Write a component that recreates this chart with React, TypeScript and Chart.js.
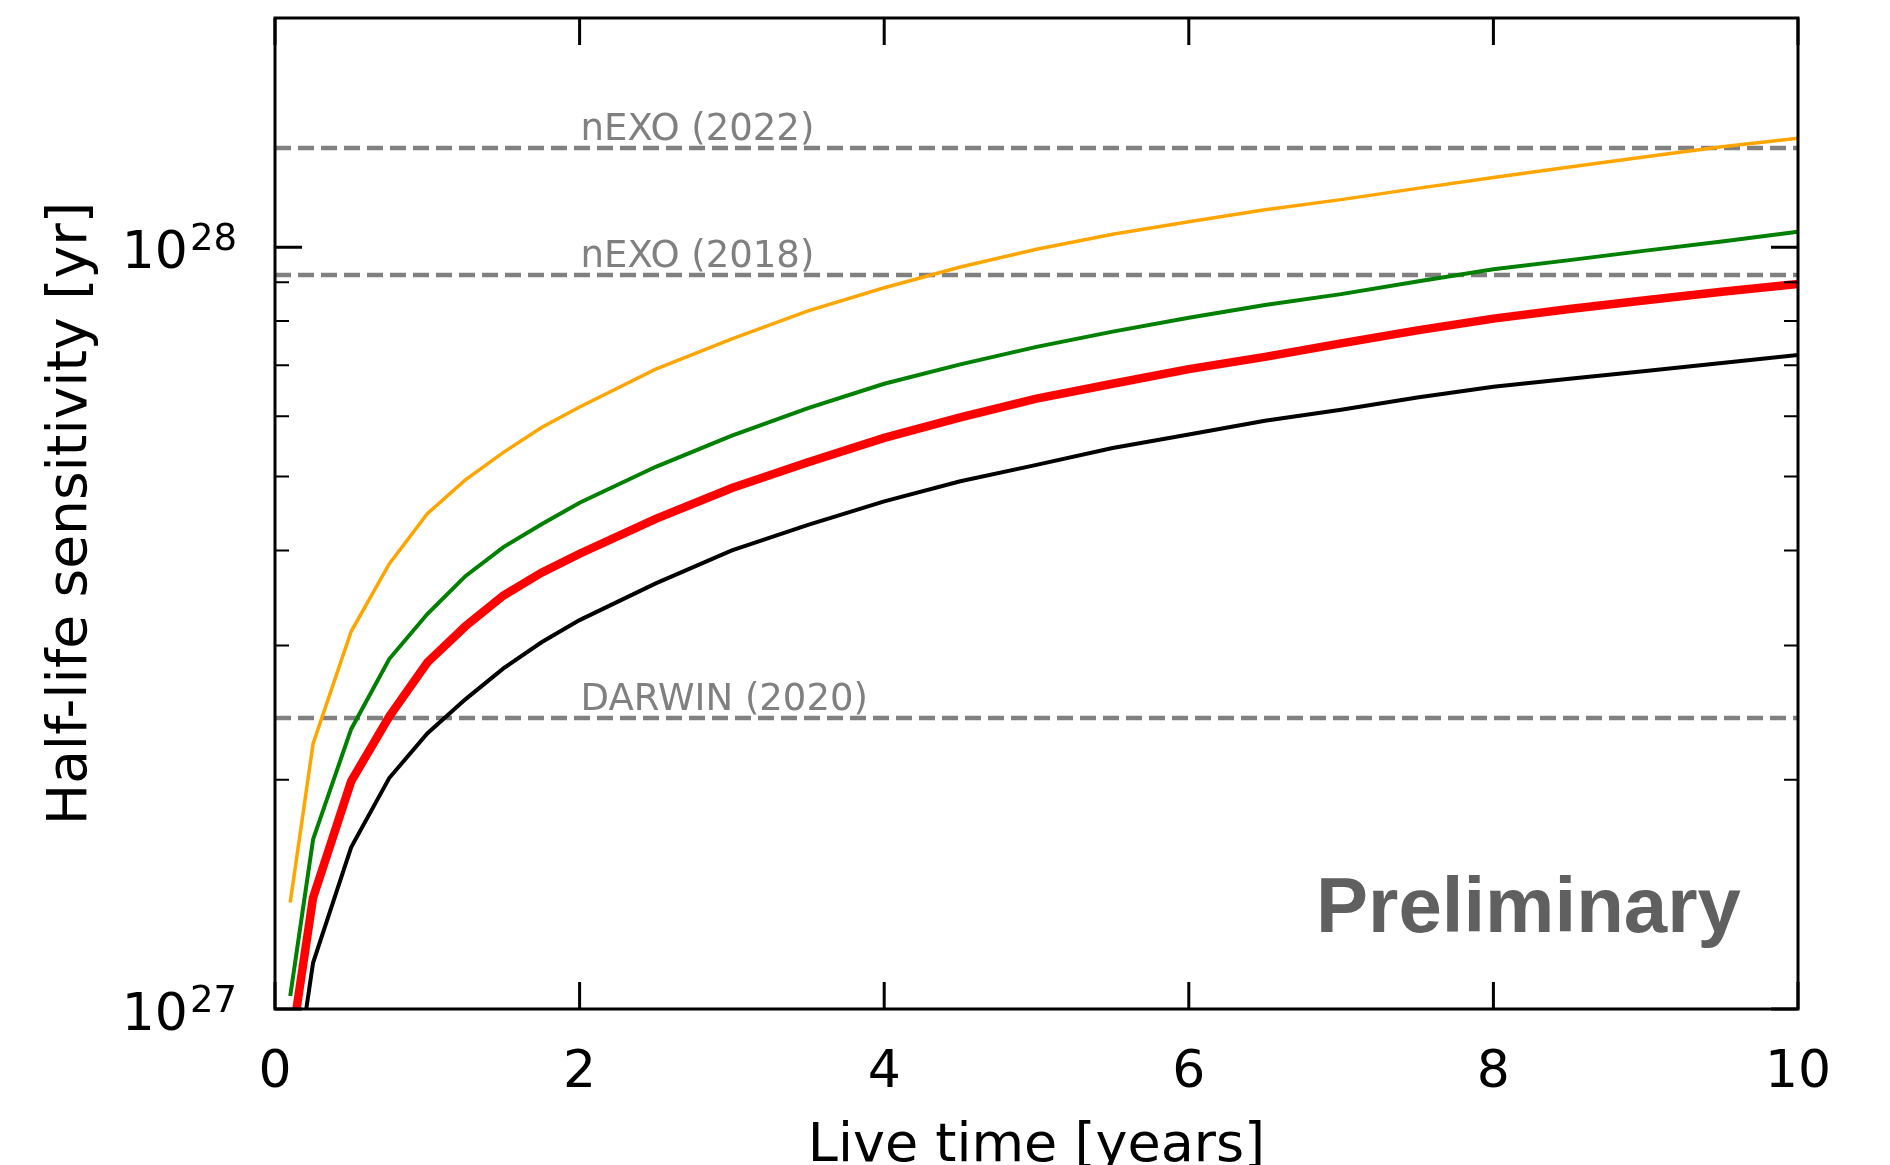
import React, { useEffect, useRef } from "react";
import { Chart, registerables } from "chart.js";

Chart.register(...registerables);

// Live time [years]
const LIVE_TIME = [0.1, 0.25, 0.5, 0.75, 1, 1.25, 1.5, 1.75, 2, 2.5, 3, 3.5, 4, 4.5, 5, 5.5, 6, 6.5, 7, 7.5, 8, 8.5, 9, 9.5, 10];

// Half-life sensitivity [yr]
const ORANGE_SERIES = [1.38e27, 2.23e27, 3.13e27, 3.84e27, 4.47e27, 4.95e27, 5.38e27, 5.8e27, 6.17e27, 6.92e27, 7.58e27, 8.25e27, 8.85e27, 9.42e27, 9.94e27, 1.04e28, 1.08e28, 1.12e28, 1.155e28, 1.195e28, 1.235e28, 1.275e28, 1.315e28, 1.355e28, 1.39e28];
const GREEN_SERIES = [1.04e27, 1.67e27, 2.33e27, 2.88e27, 3.3e27, 3.7e27, 4.04e27, 4.33e27, 4.62e27, 5.15e27, 5.66e27, 6.15e27, 6.62e27, 7.02e27, 7.4e27, 7.75e27, 8.08e27, 8.4e27, 8.68e27, 9.02e27, 9.36e27, 9.62e27, 9.9e27, 1.018e28, 1.048e28];
const RED_SERIES = [0.88e27, 1.4e27, 1.99e27, 2.42e27, 2.85e27, 3.18e27, 3.49e27, 3.74e27, 3.96e27, 4.4e27, 4.83e27, 5.22e27, 5.62e27, 5.98e27, 6.33e27, 6.62e27, 6.92e27, 7.18e27, 7.48e27, 7.78e27, 8.06e27, 8.3e27, 8.52e27, 8.74e27, 8.95e27];
const BLACK_SERIES = [0.72e27, 1.15e27, 1.63e27, 2.01e27, 2.3e27, 2.55e27, 2.8e27, 3.03e27, 3.24e27, 3.62e27, 4.0e27, 4.32e27, 4.64e27, 4.93e27, 5.18e27, 5.45e27, 5.68e27, 5.92e27, 6.12e27, 6.35e27, 6.56e27, 6.72e27, 6.88e27, 7.05e27, 7.22e27];

// Reference sensitivities (dashed lines)
const REF_LABELS = ["nEXO (2022)", "nEXO (2018)", "DARWIN (2020)"];
const REF_VALUES = [1.35e28, 9.2e27, 2.41e27];
const REF_LABEL_X = 2;

// Axes
const X_MIN = 0;
const X_MAX = 10;
const X_MAJOR_TICKS = [0, 2, 4, 6, 8, 10];
const Y_MIN = 1e27;
const Y_MAX = 2e28;
const Y_MAJOR_TICKS = [1e27, 1e28];
const Y_MAJOR_BASE = ["10", "10"];
const Y_MAJOR_EXP = ["27", "28"];
const Y_MINOR_TICKS = [2e27, 3e27, 4e27, 5e27, 6e27, 7e27, 8e27, 9e27];

const FONT = "'DejaVu Sans', sans-serif";

const toPoints = (ys: number[]) => LIVE_TIME.map((t, i) => ({ x: t, y: ys[i] }));

const decorPlugin = {
  id: "decor",
  afterDraw(chart: any) {
    const { ctx, chartArea: a, scales } = chart;
    const xs = scales.x;
    const ys = scales.y;
    ctx.save();

    // reference labels
    ctx.fillStyle = "#808080";
    ctx.font = `37px ${FONT}`;
    ctx.textAlign = "left";
    ctx.textBaseline = "alphabetic";
    REF_LABELS.forEach((label, i) => {
      ctx.fillText(label, xs.getPixelForValue(REF_LABEL_X) + 1, ys.getPixelForValue(REF_VALUES[i]) - 8);
    });

    // Preliminary
    ctx.fillStyle = "#606060";
    ctx.font = "bold 78px 'Liberation Sans', Arial, sans-serif";
    ctx.fillText("Preliminary", a.left + 1041, a.bottom - 77);

    // inward ticks
    ctx.strokeStyle = "#000";
    ctx.lineWidth = 3;
    ctx.beginPath();
    X_MAJOR_TICKS.forEach((v) => {
      const px = xs.getPixelForValue(v);
      ctx.moveTo(px, a.bottom);
      ctx.lineTo(px, a.bottom - 27);
      ctx.moveTo(px, a.top);
      ctx.lineTo(px, a.top + 27);
    });
    Y_MAJOR_TICKS.forEach((v) => {
      const py = ys.getPixelForValue(v);
      ctx.moveTo(a.left, py);
      ctx.lineTo(a.left + 27, py);
      ctx.moveTo(a.right, py);
      ctx.lineTo(a.right - 27, py);
    });
    ctx.stroke();
    ctx.lineWidth = 2;
    ctx.beginPath();
    Y_MINOR_TICKS.forEach((v) => {
      const py = ys.getPixelForValue(v);
      ctx.moveTo(a.left, py);
      ctx.lineTo(a.left + 14, py);
      ctx.moveTo(a.right, py);
      ctx.lineTo(a.right - 14, py);
    });
    ctx.stroke();

    // frame
    ctx.lineWidth = 3;
    ctx.strokeRect(a.left, a.top, a.right - a.left, a.bottom - a.top);

    // y tick labels 10^n
    ctx.fillStyle = "#000";
    ctx.textAlign = "right";
    Y_MAJOR_TICKS.forEach((v, i) => {
      const py = ys.getPixelForValue(v);
      ctx.font = `37px ${FONT}`;
      const expRight = a.left - 38;
      ctx.fillText(Y_MAJOR_EXP[i], expRight, py + 3);
      const w = ctx.measureText(Y_MAJOR_EXP[i]).width;
      ctx.font = `52px ${FONT}`;
      ctx.fillText(Y_MAJOR_BASE[i], expRight - w - 2, py + 21);
    });

    ctx.restore();
  },
};

export default function App() {
  const canvasRef = useRef<HTMLCanvasElement | null>(null);

  useEffect(() => {
    const canvas = canvasRef.current;
    if (!canvas) return;
    const lineDs = (label: string, ys: number[], color: string, width: number, order: number) => ({
      label,
      data: toPoints(ys),
      borderColor: color,
      backgroundColor: color,
      borderWidth: width,
      pointRadius: 0,
      tension: 0,
      fill: false,
      clip: 0,
      order,
    });
    const refDs = REF_VALUES.map((v, i) => ({
      label: REF_LABELS[i],
      data: [
        { x: X_MIN, y: v },
        { x: X_MAX, y: v },
      ],
      borderColor: "#808080",
      borderWidth: 4.5,
      borderDash: [16, 7],
      pointRadius: 0,
      fill: false,
      clip: 0,
      order: 10,
    }));

    const chart = new Chart(canvas, {
      type: "line",
      data: {
        datasets: [
          lineDs("Black", BLACK_SERIES, "#000000", 4, 4),
          lineDs("Red", RED_SERIES, "#ff0000", 8.5, 1),
          lineDs("Green", GREEN_SERIES, "#008000", 4, 2),
          lineDs("Orange", ORANGE_SERIES, "#ffa500", 3.5, 3),
          ...refDs,
        ] as any,
      },
      options: {
        responsive: false,
        animation: false,
        devicePixelRatio: 1,
        layout: { padding: { left: 0, right: 92, top: 18, bottom: 0 } },
        plugins: {
          legend: { display: false },
          tooltip: { enabled: false },
          title: { display: false },
        },
        scales: {
          x: {
            type: "linear",
            min: X_MIN,
            max: X_MAX,
            grid: { display: false, drawTicks: false },
            border: { display: false },
            ticks: {
              stepSize: 2,
              padding: 33,
              color: "#000",
              font: { family: FONT, size: 52 },
              maxRotation: 0,
              autoSkip: false,
            },
            title: {
              display: true,
              text: "Live time [years]",
              color: "#000",
              font: { family: FONT, size: 54, lineHeight: 0.67 },
              padding: { top: 0, bottom: 0 },
            },
            afterFit: (s: any) => {
              s.height = 156;
            },
          },
          y: {
            type: "logarithmic",
            min: Y_MIN,
            max: Y_MAX,
            grid: { display: false, drawTicks: false },
            border: { display: false },
            ticks: { display: false },
            title: {
              display: true,
              text: "Half-life sensitivity [yr]",
              color: "#000",
              font: { family: FONT, size: 55, lineHeight: 1.0 },
              padding: { top: 44, bottom: 0 },
            },
            afterFit: (s: any) => {
              s.width = 275;
            },
          },
        },
      } as any,
      plugins: [decorPlugin],
    });
    return () => chart.destroy();
  }, []);

  return (
    <div style={{ position: "fixed", left: 0, top: 0, width: 1890, height: 1165, background: "#fff", overflow: "hidden" }}>
      <canvas ref={canvasRef} width={1890} height={1165} style={{ display: "block", width: 1890, height: 1165 }} />
    </div>
  );
}
